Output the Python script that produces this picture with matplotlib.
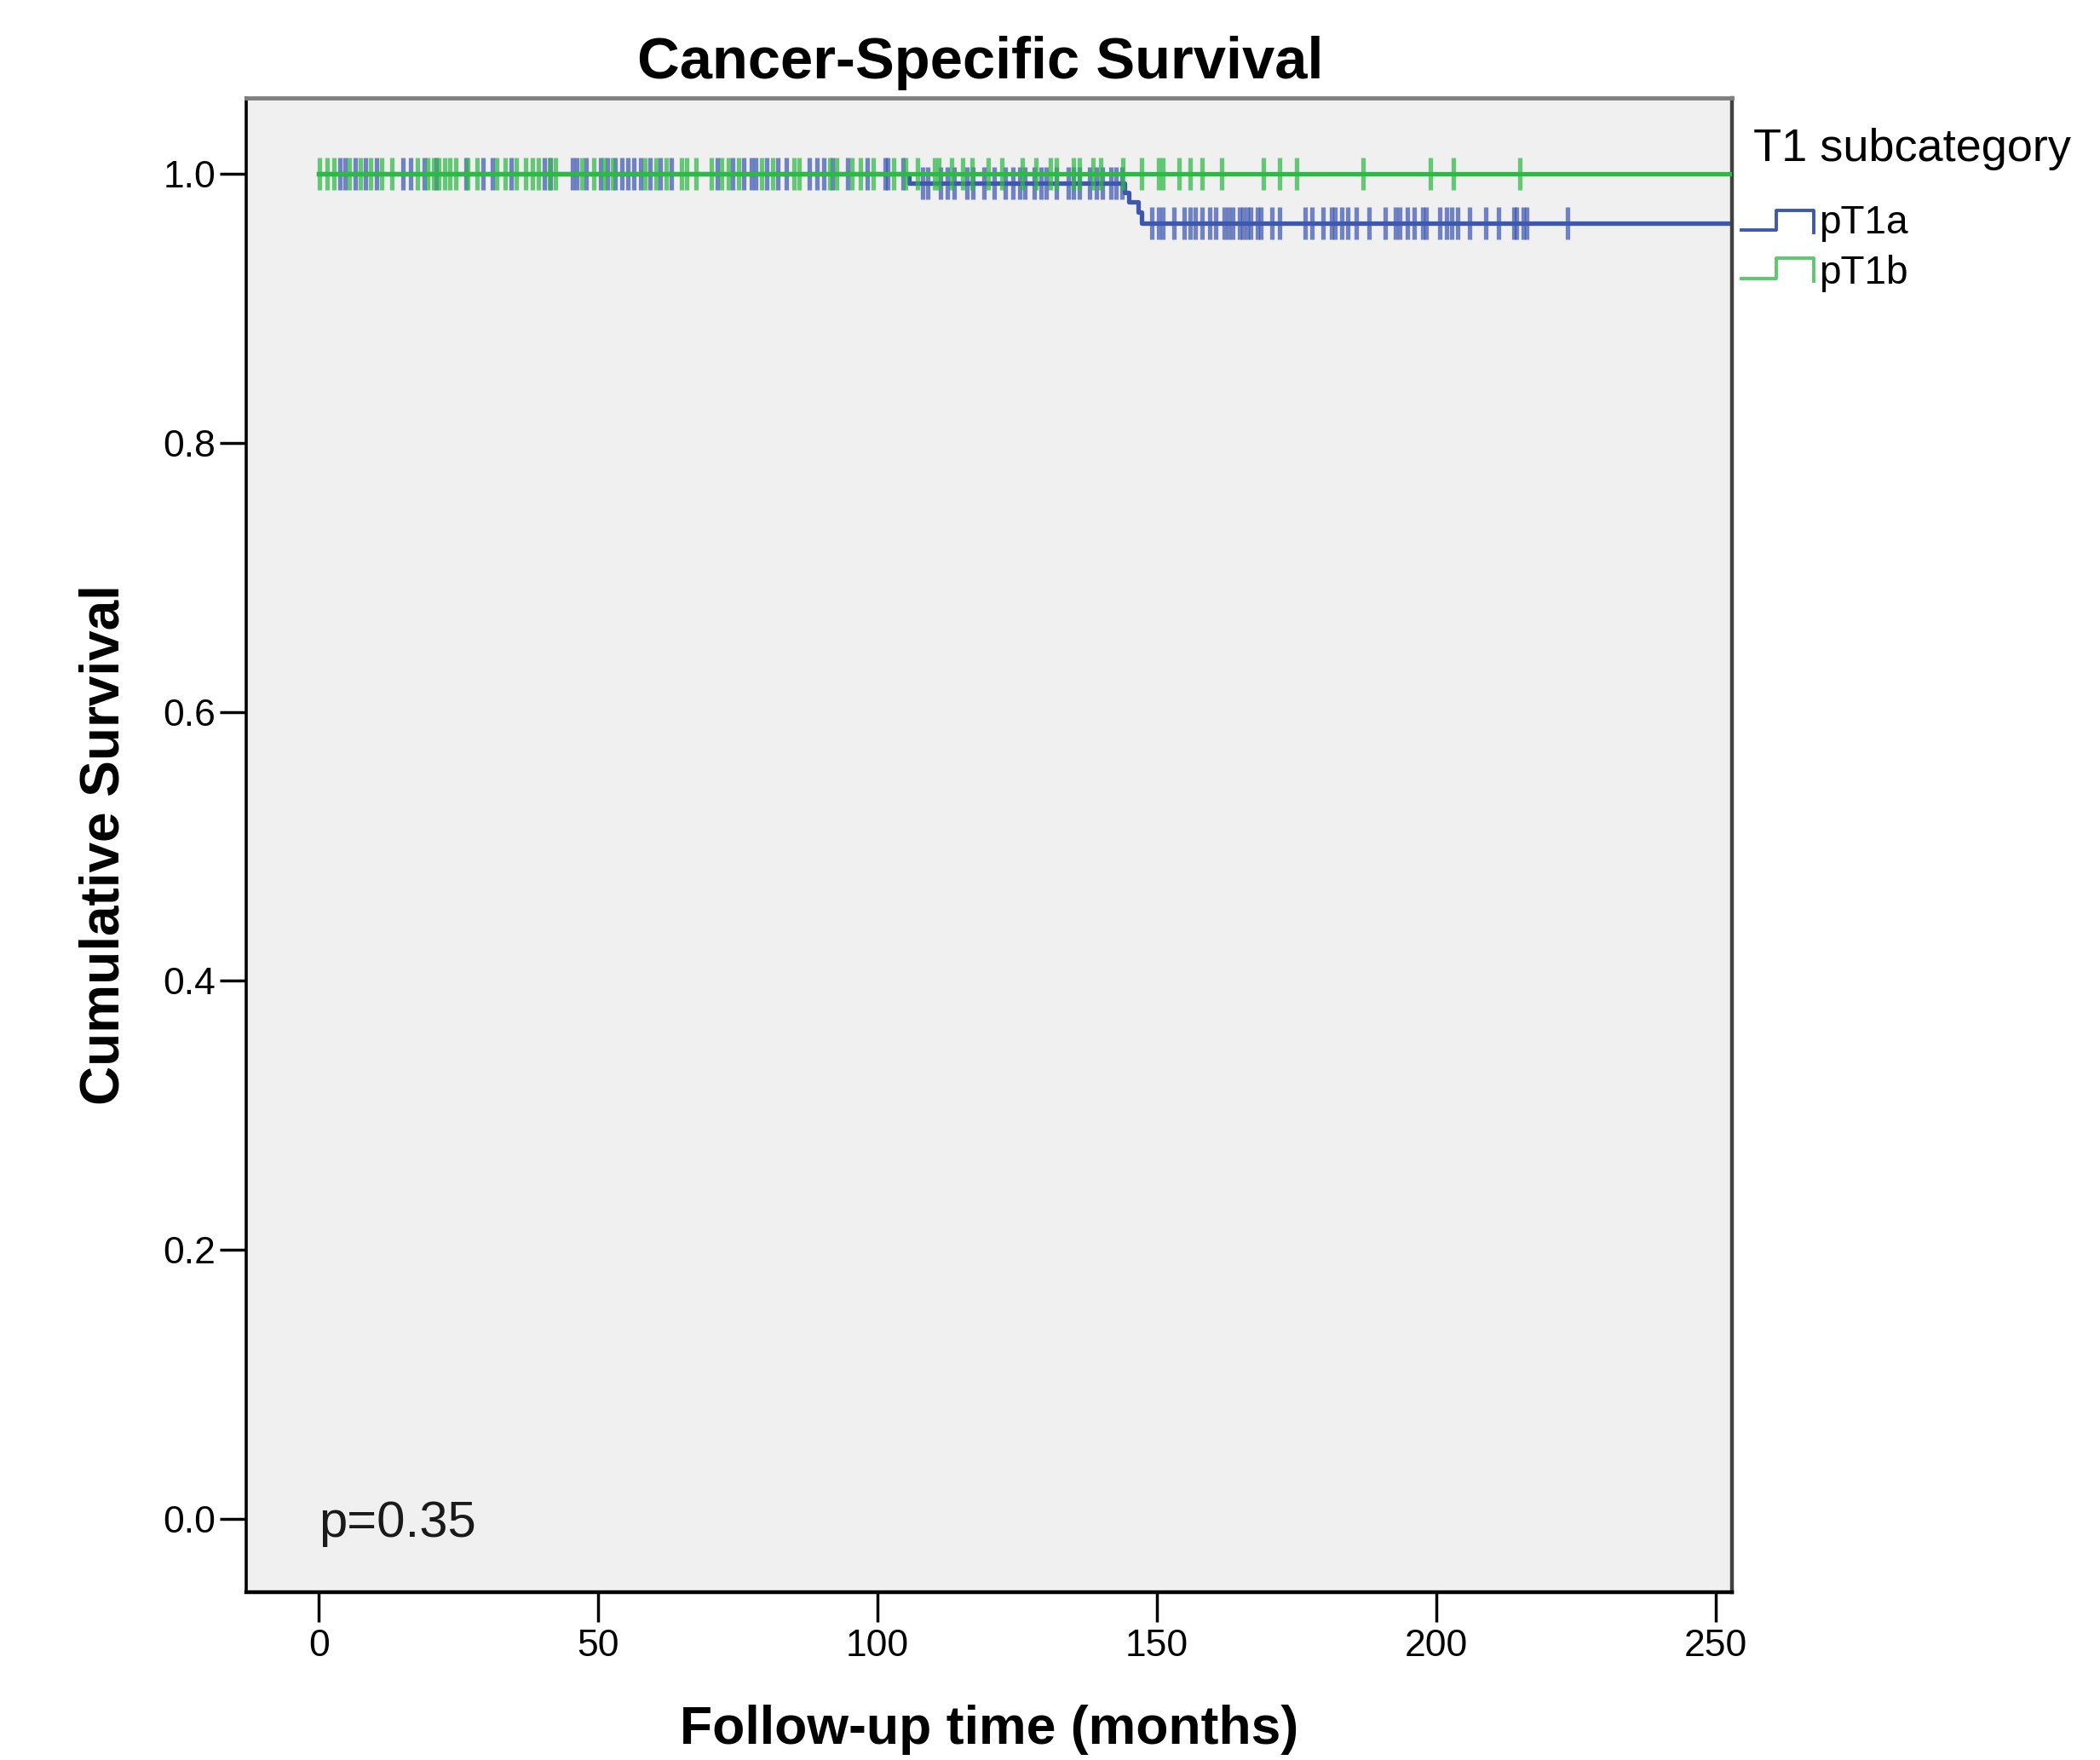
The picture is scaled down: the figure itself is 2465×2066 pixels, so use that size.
import matplotlib
matplotlib.use("Agg")
import matplotlib.pyplot as plt
from matplotlib.lines import Line2D

plt.rcParams['font.family'] = ['Liberation Sans', 'DejaVu Sans']

# ---- data ----
group_labels = ["pT1a", "pT1b"]

# Kaplan-Meier step curves (time in months, cumulative survival)
pT1a_times = [0.0, 105.6, 144.2, 145.0, 146.6, 147.3, 255.0]
pT1a_surv = [1.0, 0.9933, 0.9862, 0.9795, 0.9716, 0.9637, 0.9637]
pT1b_times = [0.0, 255.0]
pT1b_surv = [1.0, 1.0]

# censored observations (months)
pT1a_censored = [3.7, 4.7, 6.5, 8.3, 10.3, 15.1, 16.4, 18.9, 21.0, 26.3, 29.4, 31.1,
                 34.4, 40.3, 41.5, 45.4, 46.1, 47.9, 50.4, 51.7, 53.0, 54.2, 55.3,
                 56.3, 57.6, 59.3, 61.1, 63.1, 71.3, 74.1, 76.1, 77.4, 78.1, 80.2,
                 82.2, 83.7, 87.8, 89.1, 90.3, 91.9, 94.7, 98.2, 101.3, 101.8, 104.6,
                 108.1, 108.9, 111.2, 112.5, 113.7, 116.0, 117.0, 119.1, 120.8,
                 122.9, 124.2, 125.4, 126.4, 128.0, 129.2, 130.2, 132.0, 134.1,
                 135.1, 136.1, 137.9, 139.1, 140.2, 141.7, 142.7, 143.7,
                 149.1, 150.3, 151.1, 153.0, 154.9, 155.9, 156.9, 158.0, 159.5,
                 160.5, 162.0, 162.8, 163.5, 164.8, 165.4, 166.1, 166.8, 168.0,
                 168.6, 170.6, 171.9, 176.5, 177.7, 179.7, 181.3, 181.8, 183.1,
                 184.1, 185.6, 187.9, 190.8, 192.7, 193.5, 194.8, 196.0, 197.5,
                 198.1, 200.6, 201.9, 202.7, 203.8, 206.0, 208.8, 211.1, 213.8,
                 214.4, 215.6, 216.1, 223.4]
pT1b_censored = [0.1, 1.5, 2.7, 5.5, 7.5, 9.3, 11.3, 13.1, 17.7, 19.4, 20.5, 21.5,
                 22.5, 23.5, 24.5, 26.6, 28.3, 31.9, 33.4, 35.4, 37.0, 38.2, 39.3,
                 41.3, 42.3, 47.1, 49.2, 51.0, 52.5, 58.3, 60.4, 62.1, 64.9, 65.9,
                 67.5, 70.3, 72.0, 73.3, 75.1, 79.2, 81.2, 85.0, 86.0, 91.4, 92.6,
                 95.4, 96.9, 99.2, 102.8, 105.0, 107.1, 110.2, 111.0, 113.2, 115.2,
                 116.9, 119.8, 122.3, 125.9, 128.4, 131.0, 132.0, 135.0, 136.1,
                 138.6, 139.9, 143.9, 147.2, 150.3, 151.1, 153.9, 155.9, 158.0,
                 161.5, 169.1, 172.0, 175.0, 186.9, 198.9, 203.0, 214.9]

x_ticks = [0, 50, 100, 150, 200, 250]
y_ticks = [0.0, 0.2, 0.4, 0.6, 0.8, 1.0]
y_ticklabels = ["0.0", "0.2", "0.4", "0.6", "0.8", "1.0"]

title = "Cancer-Specific Survival"
xlabel = "Follow-up time (months)"
ylabel = "Cumulative Survival"
legend_title = "T1 subcategory"
p_text = "p=0.35"

BLUE = "#3e58b0"
GREEN = "#2eb846"
W, H = 2465, 2066


def step_value(times, surv, t):
    v = surv[0]
    for tt, ss in zip(times, surv):
        if tt <= t:
            v = ss
    return v


fig = plt.figure(figsize=(W / 100, H / 100), dpi=100)
fig.patch.set_facecolor("white")
ax = fig.add_axes([289 / W, 1 - 1869 / H, (2033 - 289) / W, (1869 - 115) / H])
ax.set_facecolor("#f0f0f0")

# curves: pT1a first, pT1b on top
for times, surv, cens, col, z in [(pT1a_times, pT1a_surv, pT1a_censored, BLUE, 2),
                                  (pT1b_times, pT1b_surv, pT1b_censored, GREEN, 3)]:
    ax.step(times, surv, where="post", color=col, lw=3.8, zorder=z)
    cy = [step_value(times, surv, t) for t in cens]
    ax.plot(cens, cy, ls="none", marker="|", ms=27, mew=3.8, color=col,
            alpha=0.72, zorder=z)

ax.set_xlim(-13, 252.9)
ax.set_ylim(-0.0547, 1.0566)
ax.set_xticks(x_ticks)
ax.set_yticks(y_ticks)
ax.set_yticklabels(y_ticklabels)
ax.tick_params(axis="both", labelsize=32, colors="black", width=2.5)
ax.tick_params(axis="y", length=22, pad=4)
ax.tick_params(axis="x", length=25, pad=6)

for side, col, lw in [("left", "black", 2.6), ("bottom", "black", 3.2),
                      ("top", "#808080", 3.5), ("right", "#404040", 3.2)]:
    ax.spines[side].set_color(col)
    ax.spines[side].set_linewidth(lw)

ax.text(0, -0.004, p_text, fontsize=43, va="center", ha="left", color="#1a1a1a")

# titles and axis labels
fig.text(1151 / W, 1 - 74 / H, title, fontsize=49.5, fontweight="bold",
         ha="center", va="center")
fig.text(1161 / W, 1 - 2031 / H, xlabel, fontsize=45, fontweight="bold",
         ha="center", va="center")
fig.text(123 / W, 1 - 992 / H, ylabel, fontsize=46, fontweight="bold",
         ha="center", va="center", rotation=90)

# legend (outside right)
fig.text(2058 / W, 1 - 174.5 / H, legend_title, fontsize=39, ha="left", va="center")
for lab, col, ylow, yhigh, ytxt in [(group_labels[0], BLUE, 270, 247, 262.5),
                                    (group_labels[1], "#5cc96c", 327, 303, 320.7)]:
    xs = [2044 / W, 2085 / W, 2085 / W, 2129 / W, 2129 / W]
    ys = [1 - ylow / H, 1 - ylow / H, 1 - yhigh / H, 1 - yhigh / H, 1 - (ylow + 3) / H]
    fig.add_artist(Line2D(xs, ys, transform=fig.transFigure, color=col, lw=2.8))
    fig.text(2135 / W, 1 - ytxt / H, lab, fontsize=33, ha="left", va="center")

fig.savefig("out.png", dpi=100, facecolor="white")
